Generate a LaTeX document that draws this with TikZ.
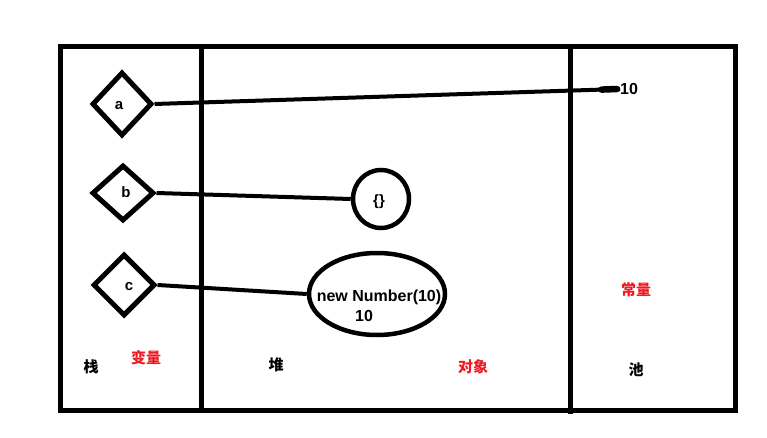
\documentclass[tikz,border=0pt]{standalone}
\usepackage{fontspec}
\setmainfont{Liberation Sans}
\newfontfamily\cjk{Noto Sans CJK SC}
\usetikzlibrary{shapes.geometric,calc}
\definecolor{lblred}{RGB}{237,28,36}
\tikzset{
  frame/.style={line width=5pt},
  var/.style={diamond, draw, line width=5pt, inner sep=0pt, minimum width=60pt, minimum height=62pt},
  obj/.style={ellipse, draw, line width=4.5pt, inner sep=0pt},
  link/.style={line width=4pt},
  txt/.style={font=\bfseries\fontsize{16}{16}\selectfont, inner sep=0pt},
  small/.style={font=\bfseries\fontsize{15}{15}\selectfont, inner sep=0pt},
  zh/.style={font=\cjk\bfseries\fontsize{15}{15}\selectfont, inner sep=0pt},
  zhred/.style={zh, text=lblred}
}
\begin{document}
\begin{tikzpicture}[x=1pt,y=-1pt]
\useasboundingbox (0,0) rectangle (767,438);
% frame
\draw[frame] (60,47) rectangle (735,410);
\coordinate (d1t) at (201,47);
\coordinate (d1b) at (201,410);
\coordinate (d2t) at (570,47);
\coordinate (d2b) at (570,414);
\draw[frame] (d1t) -- (d1b);
\draw[frame] (d2t) -- (d2b);
% stack variables
\node[var, minimum height=64pt] (a) at (122,104) {};
\node[var, minimum height=56pt, minimum width=62pt] (b) at (123,193) {};
\node[var, minimum height=62pt, minimum width=62pt] (c) at (124,285) {};
\node[small] (la) at (119,106) {a};
\node[small] (lb) at (126,192) {b};
\node[small] (lc) at (129,287) {c};
% heap objects
\node[obj, minimum width=56pt, minimum height=58pt] (o1) at (381,199) {};
\node[small] (o1t) at (379,202) {\{\}};
\node[obj, minimum width=136pt, minimum height=82pt] (o2) at (377,294) {};
\node[txt] (o2a) at (379,297) {new Number(10)};
\node[txt] (o2b) at (364,316) {10};
% constant
\node[txt, anchor=west] (ten) at (620,89) {10};
% links
\draw[link] (a.east) -- (ten.west);
\coordinate (tk) at ($(a.east)!0.96!(ten.west)$);
\draw[line width=6.5pt, line cap=round] (tk) -- ($(ten.west)+(-3,0)$);
\draw[link] (b.east) -- (o1.west);
\draw[link] (c.east) -- (o2.west);
% labels
\node[zh] (s1) at (91,367) {栈};
\node[zhred] (s2) at (146,358) {变量};
\node[zh] (s3) at (276,365) {堆};
\node[zhred] (s4) at (473,367) {对象};
\node[zhred] (s5) at (636,290) {常量};
\node[zh] (s6) at (636,370) {池};
\end{tikzpicture}
\end{document}
